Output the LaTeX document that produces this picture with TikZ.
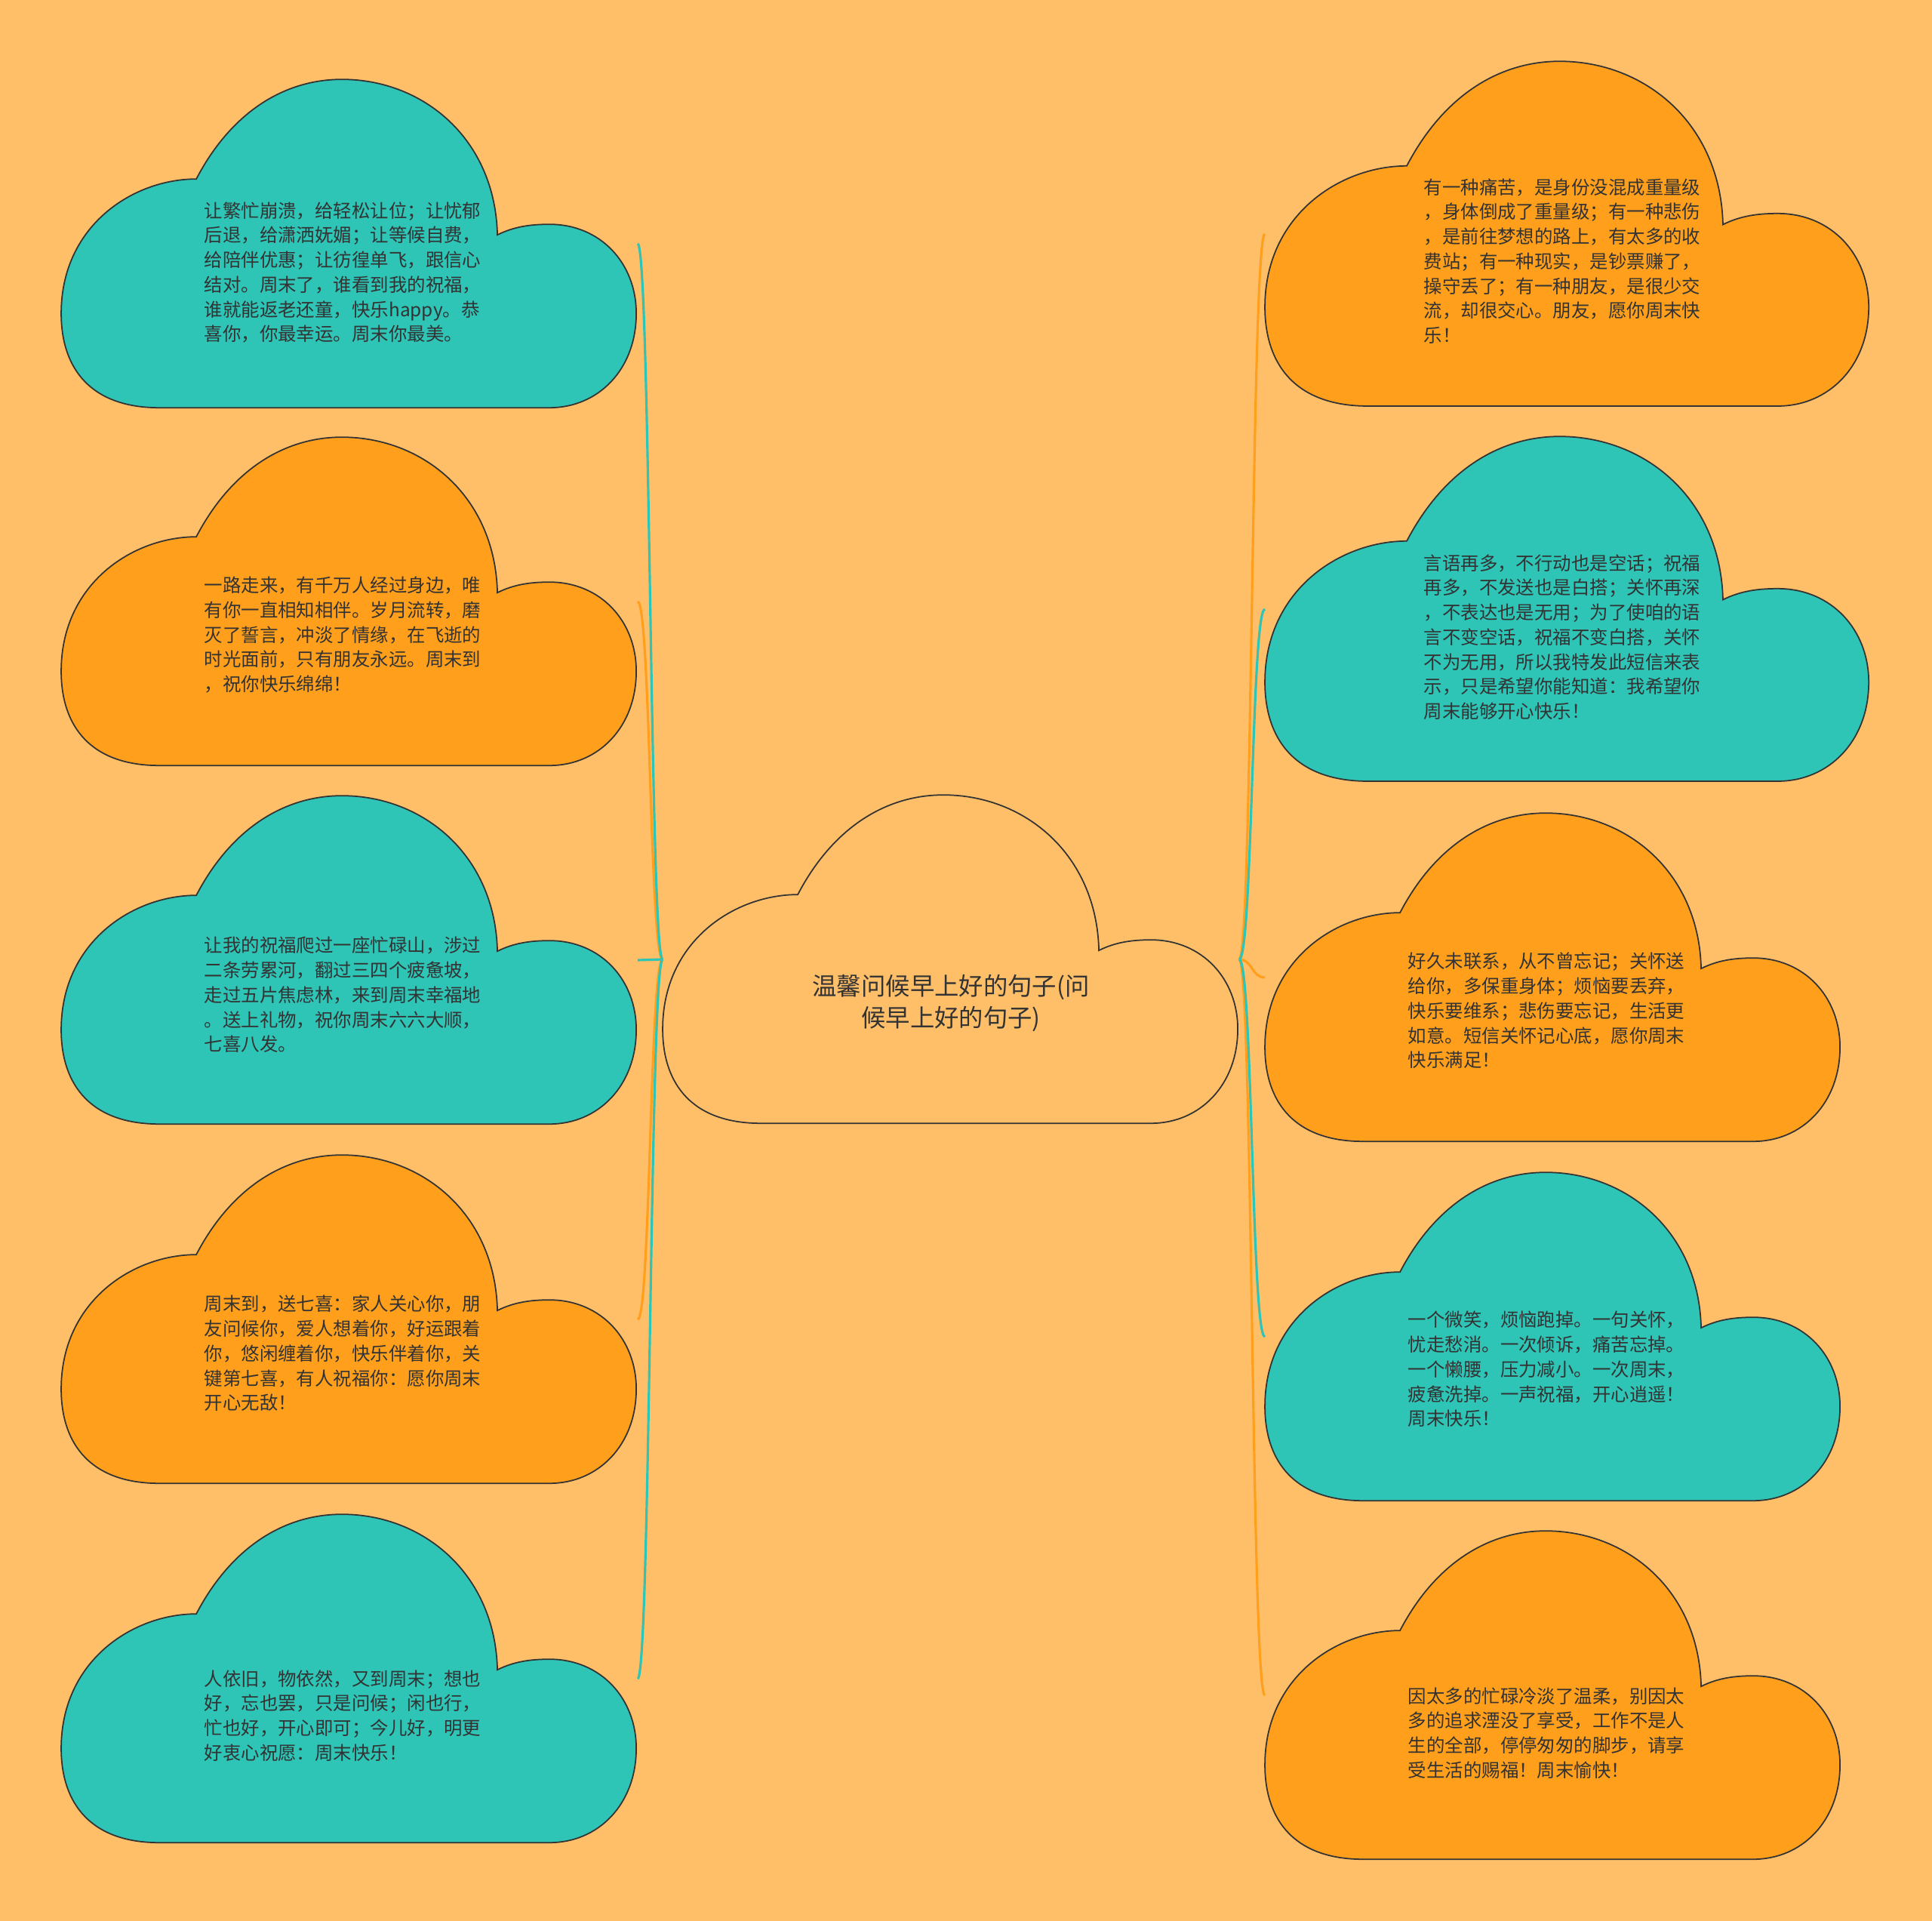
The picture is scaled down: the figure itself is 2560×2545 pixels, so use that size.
\documentclass[tikz,border=0pt]{standalone}
\usepackage{fontspec}
\setmainfont{Noto Sans CJK SC}
\usepackage{xcolor}
\usepackage{tikz}
\usetikzlibrary{calc}

\definecolor{paper}{HTML}{FFBF69}
\definecolor{tangerine}{HTML}{FF9F1C}
\definecolor{lagoon}{HTML}{2EC4B6}
\definecolor{ink}{HTML}{333333}

% cloud outline drawn over the box of a node
\newcommand{\cloudfill}[3][1]{%
  \path[cloudedge, fill=#3, shift={(#2.north west)}, scale=#1]
    (130,436) .. controls (40,436) and (0,385) .. (0,311)
    .. controls (0,195) and (95,133) .. (179,133)
    .. controls (225,45) and (295,1) .. (372,1)
    .. controls (480,1) and (575,80) .. (578,207)
    .. controls (600,196) and (622,193) .. (647,193)
    .. controls (715,193) and (762,245) .. (762,311)
    .. controls (762,385) and (712,436) .. (647,436)
    -- cycle;}

\begin{document}
\begin{tikzpicture}[x=0.01cm, y=-0.01cm,
  cloudbox/.style={rectangle, inner sep=0pt, minimum width=7.62cm, minimum height=4.36cm},
  bigcloud/.style={cloudbox, minimum width=8.0cm, minimum height=4.58cm},
  cloudedge/.style={draw=ink, line width=0.5pt},
  msg/.style={anchor=west, inner sep=0pt, align=left, text=ink,
              font=\fontsize{6.95pt}{9.3pt}\selectfont},
  title/.style={inner sep=0pt, align=center, text=ink,
                font=\fontsize{9.2pt}{12.1pt}\selectfont},
  link/.style={line width=0.9pt, draw=#1}]

  \fill[paper] (0,0) rectangle (2560,2545);
  \useasboundingbox (0,0) rectangle (2560,2545);

  % Centre
  \node[cloudbox] (C) at (1260,1271) {};

  % Left branch
  \node[cloudbox] (L1) at (463,323) {};
  \node[cloudbox] (L2) at (463,797) {};
  \node[cloudbox] (L3) at (463,1272) {};
  \node[cloudbox] (L4) at (463,1748) {};
  \node[cloudbox] (L5) at (463,2224) {};

  % Right branch
  \node[bigcloud] (R1) at (2077,310) {};
  \node[bigcloud] (R2) at (2077,807) {};
  \node[cloudbox] (R3) at (2058,1295) {};
  \node[cloudbox] (R4) at (2058,1771) {};
  \node[cloudbox] (R5) at (2058,2246) {};

  \cloudfill{C}{paper}
  \cloudfill{L1}{lagoon}
  \cloudfill{L2}{tangerine}
  \cloudfill{L3}{lagoon}
  \cloudfill{L4}{tangerine}
  \cloudfill{L5}{lagoon}
  \cloudfill[1.05]{R1}{tangerine}
  \cloudfill[1.05]{R2}{lagoon}
  \cloudfill{R3}{tangerine}
  \cloudfill{R4}{lagoon}
  \cloudfill{R5}{tangerine}

  % Links
  \draw[link=tangerine] (C.west) .. controls +(-17,0) and +(17,0) .. (L2.east);
  \draw[link=tangerine] (C.west) .. controls +(-17,0) and +(17,0) .. (L4.east);
  \draw[link=lagoon] (C.west) .. controls +(-17,0) and +(17,0) .. (L1.east);
  \draw[link=lagoon] (C.west) .. controls +(-17,0) and +(17,0) .. (L3.east);
  \draw[link=lagoon] (C.west) .. controls +(-17,0) and +(17,0) .. (L5.east);
  \draw[link=tangerine] (C.east) .. controls +(18,0) and +(-18,0) .. (R1.west);
  \draw[link=tangerine] (C.east) .. controls +(18,0) and +(-18,0) .. (R3.west);
  \draw[link=tangerine] (C.east) .. controls +(18,0) and +(-18,0) .. (R5.west);
  \draw[link=lagoon] (C.east) .. controls +(18,0) and +(-18,0) .. (R2.west);
  \draw[link=lagoon] (C.east) .. controls +(18,0) and +(-18,0) .. (R4.west);

  % Texts
  \node[title] (Ct) at ($(C.center)+(0,58)$) {温馨问候早上好的句子(问\\候早上好的句子)};

  \node[msg] (L1t) at ($(L1.west)+(189,38)$) {让繁忙崩溃，给轻松让位；让忧郁\\后退，给潇洒妩媚；让等候自费，\\给陪伴优惠；让彷徨单飞，跟信心\\结对。周末了，谁看到我的祝福，\\谁就能返老还童，快乐happy。恭\\喜你，你最幸运。周末你最美。};
  \node[msg] (L2t) at ($(L2.west)+(189,44)$) {一路走来，有千万人经过身边，唯\\有你一直相知相伴。岁月流转，磨\\灭了誓言，冲淡了情缘，在飞逝的\\时光面前，只有朋友永远。周末到\\，祝你快乐绵绵！};
  \node[msg] (L3t) at ($(L3.west)+(189,46)$) {让我的祝福爬过一座忙碌山，涉过\\二条劳累河，翻过三四个疲惫坡，\\走过五片焦虑林，来到周末幸福地\\。送上礼物，祝你周末六六大顺，\\七喜八发。};
  \node[msg] (L4t) at ($(L4.west)+(189,45)$) {周末到，送七喜：家人关心你，朋\\友问候你，爱人想着你，好运跟着\\你，悠闲缠着你，快乐伴着你，关\\键第七喜，有人祝福你：愿你周末\\开心无敌！};
  \node[msg] (L5t) at ($(L5.west)+(189,49)$) {人依旧，物依然，又到周末；想也\\好，忘也罢，只是问候；闲也行，\\忙也好，开心即可；今儿好，明更\\好衷心祝愿：周末快乐！};

  \node[msg] (R1t) at ($(R1.west)+(210,36)$) {有一种痛苦，是身份没混成重量级\\，身体倒成了重量级；有一种悲伤\\，是前往梦想的路上，有太多的收\\费站；有一种现实，是钞票赚了，\\操守丢了；有一种朋友，是很少交\\流，却很交心。朋友，愿你周末快\\乐！};
  \node[msg] (R2t) at ($(R2.west)+(210,37)$) {言语再多，不行动也是空话；祝福\\再多，不发送也是白搭；关怀再深\\，不表达也是无用；为了使咱的语\\言不变空话，祝福不变白搭，关怀\\不为无用，所以我特发此短信来表\\示，只是希望你能知道：我希望你\\周末能够开心快乐！};
  \node[msg] (R3t) at ($(R3.west)+(189,44)$) {好久未联系，从不曾忘记；关怀送\\给你，多保重身体；烦恼要丢弃，\\快乐要维系；悲伤要忘记，生活更\\如意。短信关怀记心底，愿你周末\\快乐满足！};
  \node[msg] (R4t) at ($(R4.west)+(189,43)$) {一个微笑，烦恼跑掉。一句关怀，\\忧走愁消。一次倾诉，痛苦忘掉。\\一个懒腰，压力减小。一次周末，\\疲惫洗掉。一声祝福，开心逍遥！\\周末快乐！};
  \node[msg] (R5t) at ($(R5.west)+(189,50)$) {因太多的忙碌冷淡了温柔，别因太\\多的追求湮没了享受，工作不是人\\生的全部，停停匆匆的脚步，请享\\受生活的赐福！周末愉快！};
\end{tikzpicture}
\end{document}
